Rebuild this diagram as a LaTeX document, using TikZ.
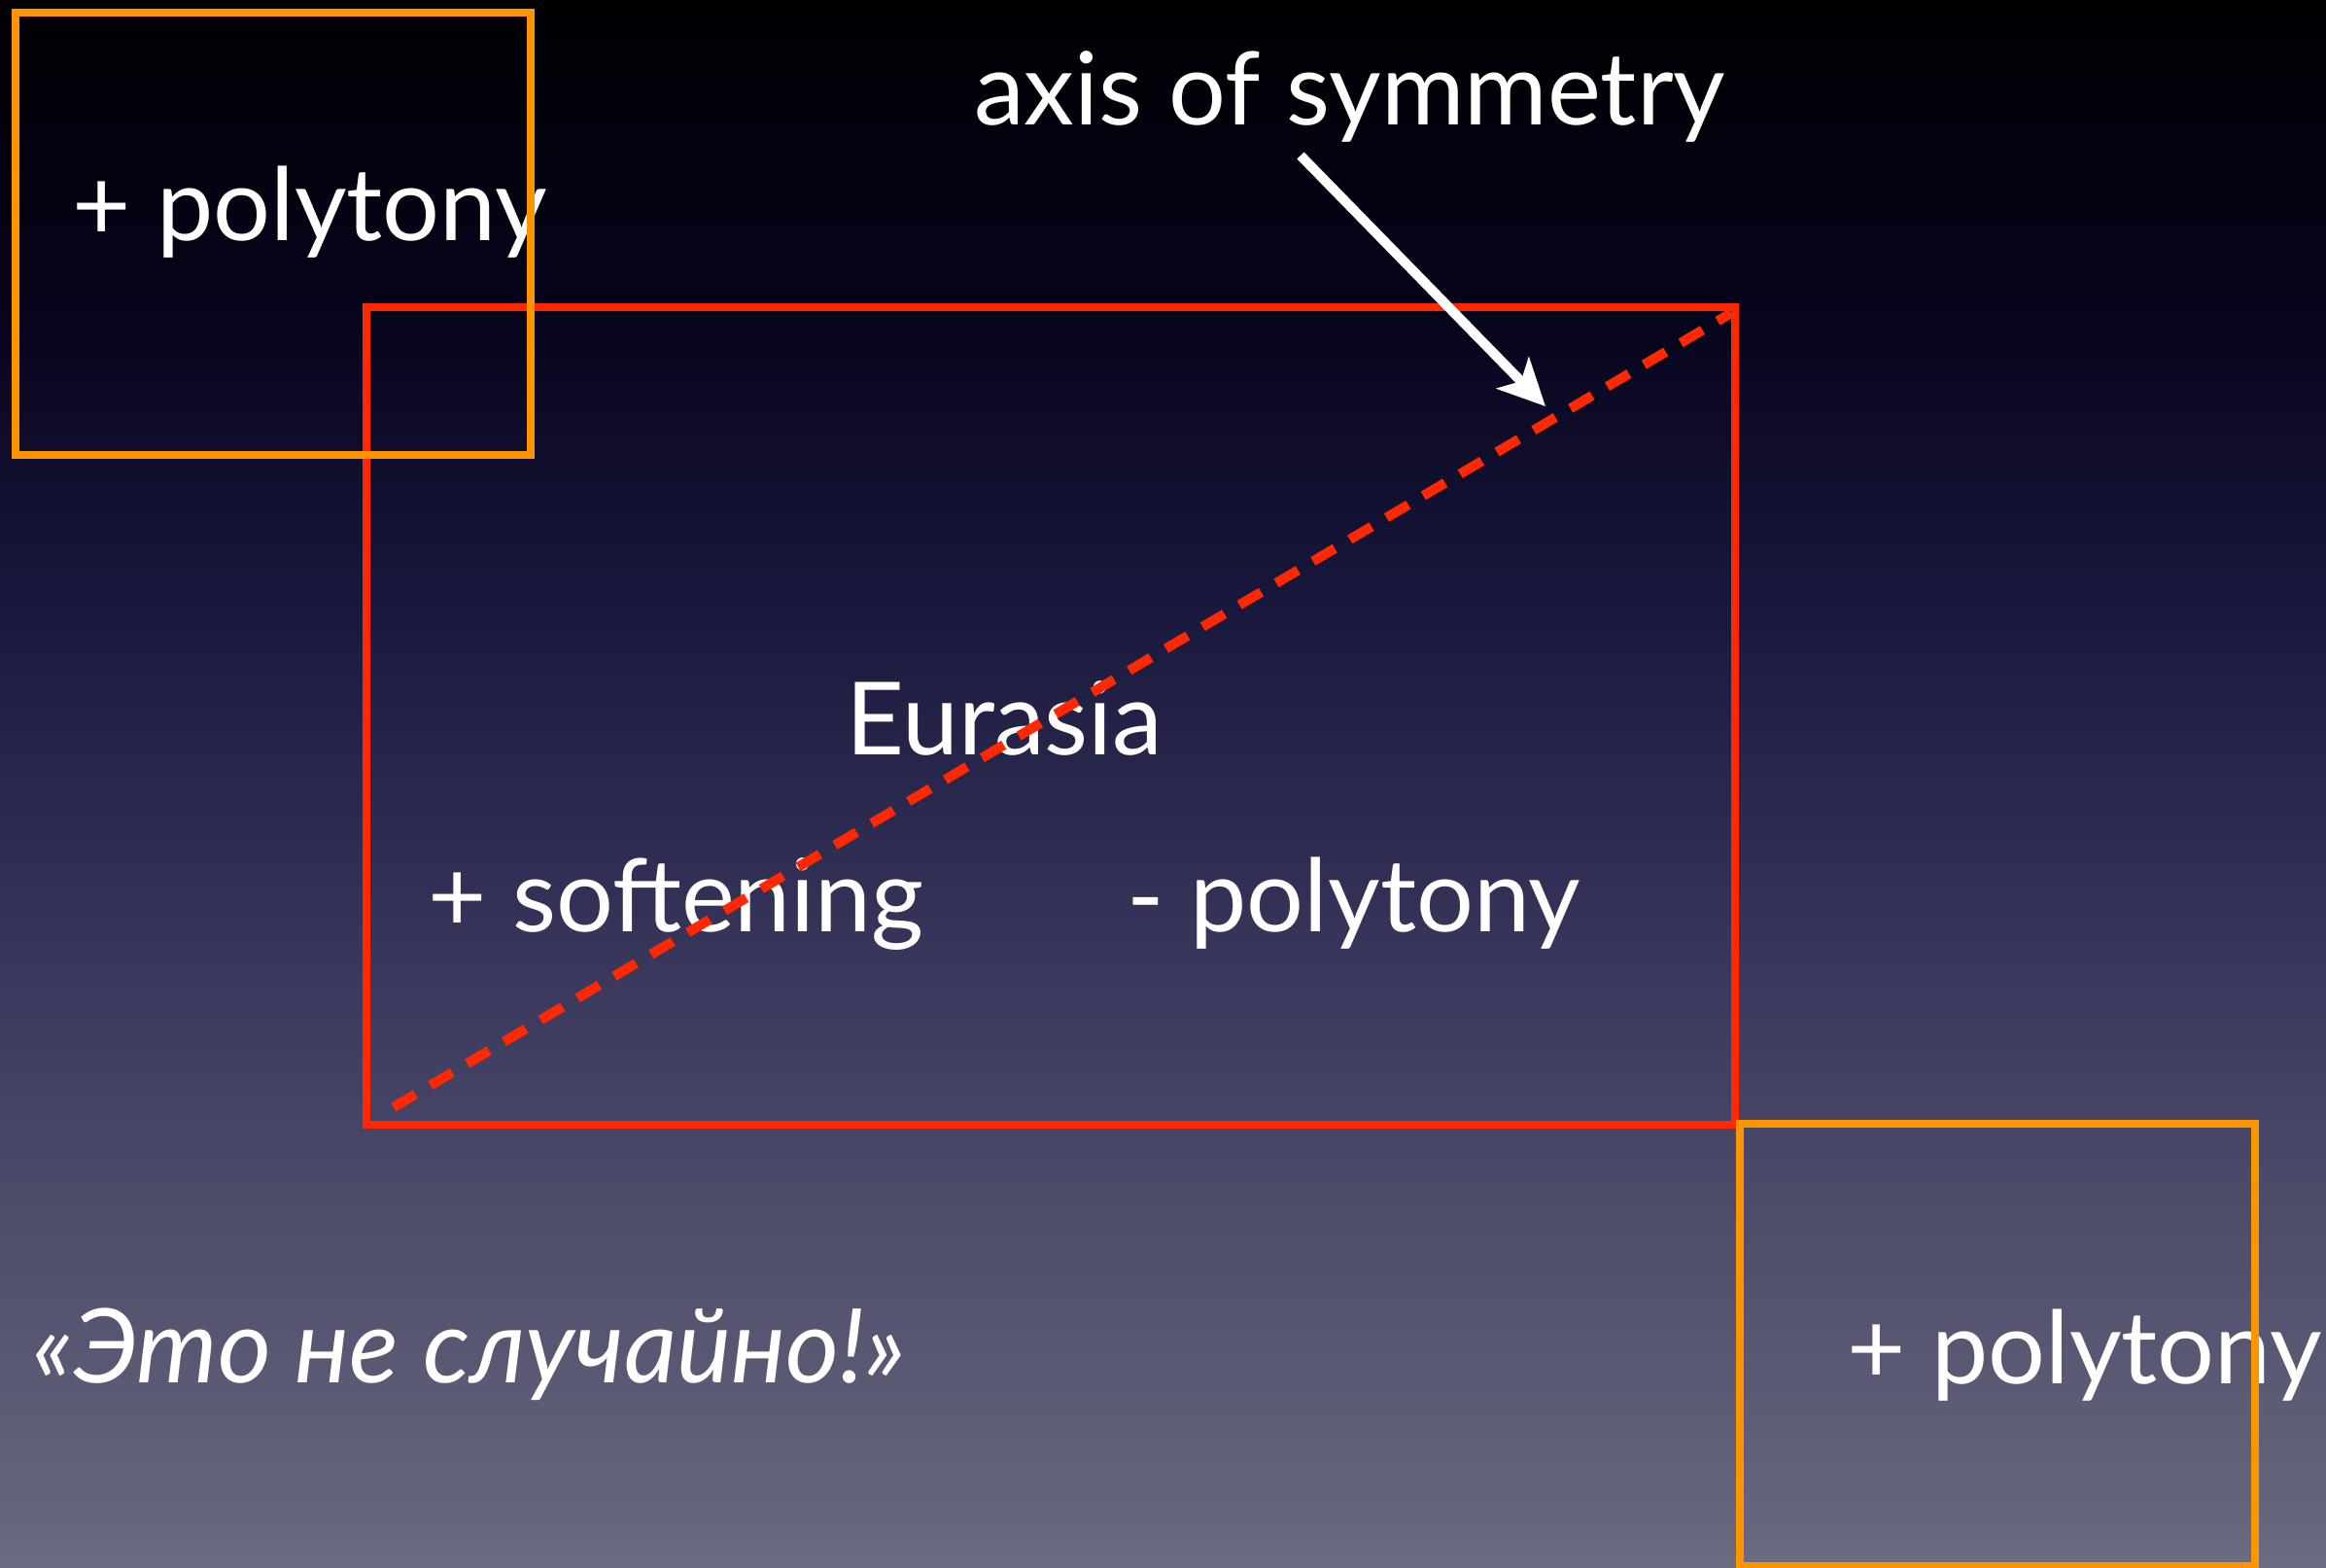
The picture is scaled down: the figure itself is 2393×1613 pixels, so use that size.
\documentclass[tikz,border=0pt]{standalone}
\usepackage{fontspec}
\setmainfont{Lato}
\usetikzlibrary{arrows.meta,calc,positioning}
\newcommand{\slidefont}{\fontsize{104}{114}\selectfont}
\definecolor{boxorange}{RGB}{255,148,0}
\definecolor{boxred}{RGB}{255,40,0}
\pgfdeclareverticalshading{slidebg}{100bp}{
  rgb(0bp)=(0.42,0.42,0.51);
  rgb(25bp)=(0.42,0.42,0.51);
  rgb(26.3bp)=(0.40,0.40,0.49);
  rgb(43.1bp)=(0.235,0.23,0.37);
  rgb(55.5bp)=(0.10,0.095,0.24);
  rgb(64.8bp)=(0.025,0.018,0.11);
  rgb(75bp)=(0,0,0.01);
  rgb(100bp)=(0,0,0.01)
}
\tikzset{
  slidetext/.style={
    text=white, inner sep=0pt, anchor=base west, font=\slidefont
  },
  framebox/.style={
    rectangle, inner sep=0pt, fill=none, line width=8pt
  },
  orangebox/.style={framebox, draw=boxorange,
    minimum width=530pt, minimum height=455pt},
  zonebox/.style={framebox, draw=boxred},
  axisline/.style={draw=boxred, line width=10pt,
    dash pattern=on 26pt off 18pt},
  pointerarrow/.style={-{Stealth[length=48pt,width=46pt,inset=12pt]},
    draw=white, line width=10pt}
}

\begin{document}
\begin{tikzpicture}[x=1pt,y=-1pt]
  \useasboundingbox (0,0) rectangle (2393,1613);
  \shade[shading=slidebg] (0,0) rectangle (2393,1613);

  \node[slidetext] (axisnote) at (1002,129) {axis of symmetry};
  \node[slidetext] (polyA) at (74,248) {+ polytony};
  \node[slidetext] (eurasia) at (870,776) {Eurasia};
  \node[slidetext] (soft) at (440,958) {+ softening};
  \node[slidetext] (polyminus) at (1159,958) {- polytony};
  \node[slidetext, font=\fontsize{106}{116}\selectfont\itshape] (quote)
    at (33,1422) {«Это не случайно!»};
  \node[slidetext] (polyB) at (1900,1423) {+ polytony};

  \node[zonebox, minimum width=1408pt, minimum height=841pt]
    (eurasiabox) at (1081,736.5) {};
  \node[orangebox] (polyboxA) at (280.5,240.5) {};
  \node[orangebox] (polyboxB) at (2055,1383) {};

  \coordinate (axislow) at (405,1139);
  \coordinate (axishigh) at (1781,322);
  \draw[axisline] (axislow) -- (axishigh);

  \coordinate (pointer) at (1338,160);
  \coordinate (pointertip) at (1590,418);
  \draw[pointerarrow] (pointer) -- (pointertip);
\end{tikzpicture}
\end{document}
